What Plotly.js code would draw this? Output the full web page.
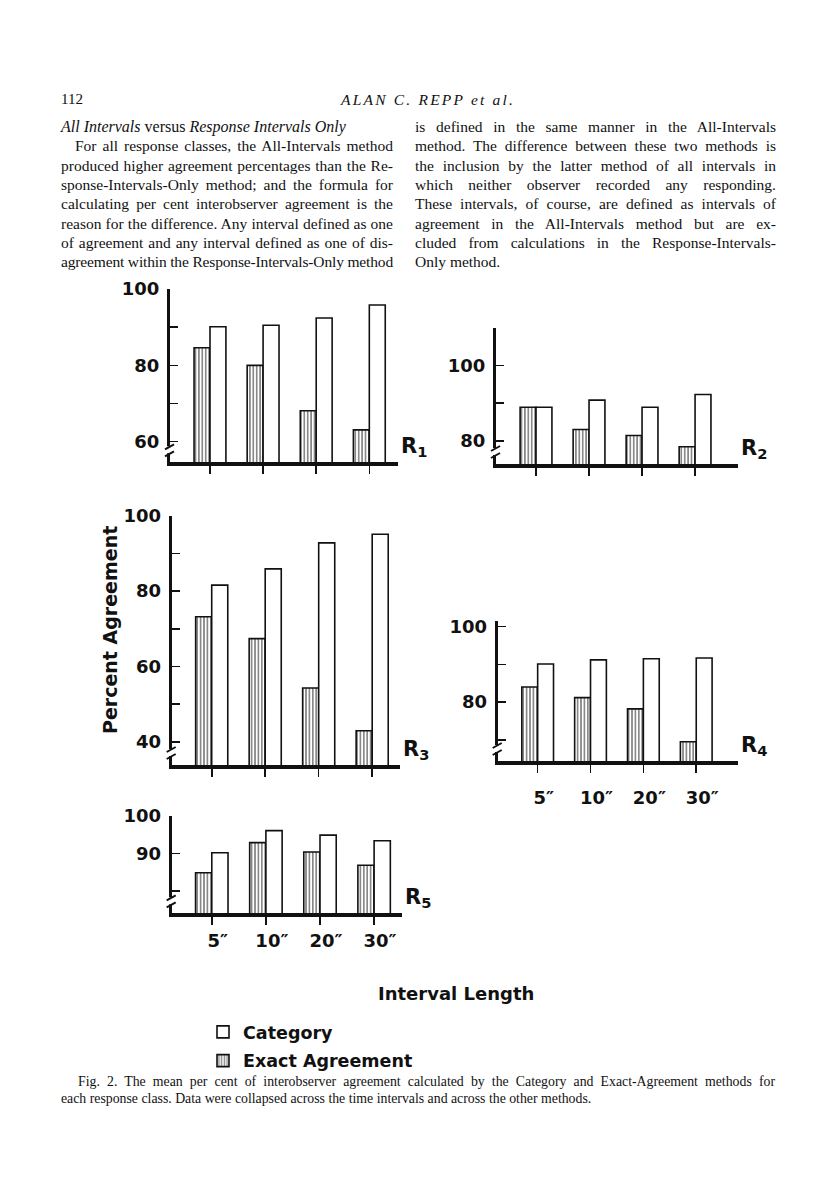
<!DOCTYPE html>
<html>
<head>
<meta charset="utf-8">
<script src="https://cdn.plot.ly/plotly-3.0.1.min.js"></script>
<style>
  html, body { margin: 0; padding: 0; background: #fff; }
  #page { position: relative; width: 816px; height: 1195px; overflow: hidden; }
  #chart { position: absolute; left: 0; top: 0; width: 816px; height: 1195px; }
  .ln { position: absolute; font-family: "Liberation Serif", "DejaVu Serif", serif; font-size: 15.5px;
        line-height: 19px; color: #111; white-space: nowrap; pointer-events: none; }
  .j { text-align: justify; text-align-last: justify; }
  .cap { font-size: 13.8px; line-height: 17px; }
</style>
</head>
<body>
<div id="page">
  <div id="chart"></div>
</div>
<script>
// ---------- data ----------
const intervals = ['5″', '10″', '20″', '30″'];
const panelNames = ['R1', 'R2', 'R3', 'R4', 'R5'];
const seriesNames = ['Exact Agreement', 'Category'];

const exactR1    = [84.6, 80.0, 68.1, 63.1];
const categoryR1 = [90.1, 90.5, 92.4, 95.8];
const exactR2    = [88.9, 83.0, 81.4, 78.4];
const categoryR2 = [88.9, 90.8, 88.9, 92.3];
const exactR3    = [73.2, 67.4, 54.3, 43.0];
const categoryR3 = [81.6, 85.9, 92.8, 95.1];
const exactR4    = [84.0, 81.2, 78.2, 69.5];
const categoryR4 = [90.1, 91.2, 91.5, 91.7];
const exactR5    = [84.9, 92.9, 90.4, 86.9];
const categoryR5 = [90.2, 96.1, 94.9, 93.4];

const yTickValsR1 = [60, 80, 100];
const yMinorValsR1 = [70, 90];
const yTickValsR2 = [80, 100];
const yMinorValsR2 = [90];
const yTickValsR3 = [40, 60, 80, 100];
const yMinorValsR3 = [50, 70, 90];
const yTickValsR4 = [80, 100];
const yMinorValsR4 = [70, 90];
const yTickValsR5 = [90, 100];
const yMinorValsR5 = [80];

const yAxisTitle = 'Percent Agreement';
const xAxisTitle = 'Interval Length';
const subLabels = ['1', '2', '3', '4', '5'];

// ---------- text of the page ----------
const headerPage = '112';
const headerAuthor = 'ALAN C. REPP et al.';
const col1Lines = [
  'For all response classes, the All-Intervals method',
  'produced higher agreement percentages than the Re-',
  'sponse-Intervals-Only method; and the formula for',
  'calculating per cent interobserver agreement is the',
  'reason for the difference. Any interval defined as one',
  'of agreement and any interval defined as one of dis-',
  'agreement within the Response-Intervals-Only method'
];
const col2Lines = [
  'is defined in the same manner in the All-Intervals',
  'method. The difference between these two methods is',
  'the inclusion by the latter method of all intervals in',
  'which neither observer recorded any responding.',
  'These intervals, of course, are defined as intervals of',
  'agreement in the All-Intervals method but are ex-',
  'cluded from calculations in the Response-Intervals-',
  'Only method.'
];
const captionLines = [
  'Fig. 2. The mean per cent of interobserver agreement calculated by the Category and Exact-Agreement methods for',
  'each response class. Data were collapsed across the time intervals and across the other methods.'
];

// ---------- page text (HTML) ----------
const page = document.getElementById('page');
function addLine(text, left, top, width, cls, extraStyle, justify) {
  const d = document.createElement('div');
  d.className = 'ln ' + (cls || '');
  d.style.left = left + 'px';
  d.style.top = top + 'px';
  if (extraStyle) Object.assign(d.style, extraStyle);
  const s = document.createElement('span');
  if (text instanceof Node) s.appendChild(text); else s.textContent = text;
  d.appendChild(s);
  page.appendChild(d);
  if (width) {
    const w = s.getBoundingClientRect().width;
    if (w > width) {
      const n = s.textContent.length;
      d.style.letterSpacing = ((width - w) / n) + 'px';
    }
    d.style.width = width + 'px';
    if (justify) d.classList.add('j');
  }
  return d;
}
addLine(headerPage, 61, 90, null, '', {fontSize: '15px'});
addLine(headerAuthor, 341, 90, null, '', {fontStyle: 'italic', fontSize: '15.5px', letterSpacing: '2.2px'});

const LH = 19.3, T0 = 117;
const head = document.createElement('span');
head.innerHTML = '<i>All Intervals</i> versus <i>Response Intervals Only</i>';
addLine(head, 61, T0, null, '', {fontSize: '16px'});
col1Lines.forEach((t, i) => addLine(t, i === 0 ? 75 : 61, T0 + LH * (i + 1), i === 0 ? 318 : 332, '', null, true));
col2Lines.forEach((t, i) => {
  const last = i === col2Lines.length - 1;
  addLine(t, 415, T0 + LH * i, last ? null : 361, '', null, !last);
});
addLine(captionLines[0], 78, 1073, 697, 'cap', null, true);
addLine(captionLines[1], 61, 1090, null, 'cap');

// ---------- chart ----------
const W = 816, H = 1195;
const px2x = p => p / W;
const px2y = p => 1 - p / H;
const geom = [
  {x: [170, 398],   y: [289, 462.3], xr: [-0.753, 3.54], yr: [54.6, 100]},
  {x: [496, 738],   y: [328, 464],   xr: [-0.755, 3.81], yr: [73.8, 110]},
  {x: [171.7, 400], y: [515.7, 765], xr: [-0.748, 3.52], yr: [33.9, 100]},
  {x: [497.7, 738], y: [621, 761],   xr: [-0.756, 3.79], yr: [64.4, 101.5]},
  {x: [171.7, 401.7], y: [816, 913.3], xr: [-0.741, 3.51], yr: [74.1, 100]}
];
const exactData = [exactR1, exactR2, exactR3, exactR4, exactR5];
const catData = [categoryR1, categoryR2, categoryR3, categoryR4, categoryR5];
const yTickVals = [yTickValsR1, yTickValsR2, yTickValsR3, yTickValsR4, yTickValsR5];
const yMinorVals = [yMinorValsR1, yMinorValsR2, yMinorValsR3, yMinorValsR4, yMinorValsR5];
const showXLabels = [false, false, false, true, true];
const xLabelStandoff = [0, 0, 0, 9, 0];

const INK = '#111';
const boldFont = (s) => ({family: 'DejaVu Sans, Liberation Sans, sans-serif', size: s, color: INK, weight: 'bold'});

const traces = [];
const layout = {
  width: W, height: H,
  margin: {l: 0, r: 0, t: 0, b: 0},
  paper_bgcolor: 'rgba(0,0,0,0)', plot_bgcolor: 'rgba(0,0,0,0)',
  barmode: 'group', bargap: 0.4, bargroupgap: 0,
  showlegend: true,
  legend: {
    x: px2x(203), y: px2y(1014), xanchor: 'left', yanchor: 'top',
    traceorder: 'grouped', tracegroupgap: 3,
    font: boldFont(17.5), bgcolor: 'rgba(0,0,0,0)'
  },
  shapes: [], annotations: []
};

panelNames.forEach((name, i) => {
  const sfx = i === 0 ? '' : String(i + 1);
  const xa = 'x' + sfx, ya = 'y' + sfx;
  const g = geom[i];
  traces.push({
    type: 'bar', name: seriesNames[0], legendgroup: 'exact', legendrank: 2, showlegend: i === 4,
    x: intervals, y: exactData[i], xaxis: xa, yaxis: ya,
    marker: {color: '#fff', line: {color: INK, width: 1.6},
             pattern: {shape: '|', fgcolor: INK, bgcolor: '#fff', size: 3.4, solidity: 0.5, fillmode: 'overlay'}},
    hoverinfo: 'skip'
  });
  traces.push({
    type: 'bar', name: seriesNames[1], legendgroup: 'cat', legendrank: 1, showlegend: i === 4,
    x: intervals, y: catData[i], xaxis: xa, yaxis: ya,
    marker: {color: '#fff', line: {color: INK, width: 1.6}},
    hoverinfo: 'skip'
  });
  layout['xaxis' + sfx] = {
    domain: [px2x(g.x[0]), px2x(g.x[1])], anchor: ya, type: 'category',
    range: g.xr, fixedrange: true,
    showline: true, linewidth: 4, linecolor: INK, mirror: false,
    ticks: 'outside', ticklen: 8, tickwidth: 1.6, tickcolor: INK,
    showgrid: false, zeroline: false,
    showticklabels: showXLabels[i], tickfont: boldFont(18),
    ticklabelstandoff: xLabelStandoff[i], ticklabelshift: 6
  };
  layout['yaxis' + sfx] = {
    domain: [px2y(g.y[1]), px2y(g.y[0])], anchor: xa,
    range: g.yr, fixedrange: true,
    showline: true, linewidth: 3, linecolor: INK,
    ticks: 'inside', ticklen: 8, tickwidth: 1.6, tickcolor: INK,
    tickmode: 'array', tickvals: yTickVals[i],
    minor: {tickmode: 'array', tickvals: yMinorVals[i], ticks: 'inside', ticklen: 8,
            tickwidth: 1.6, tickcolor: INK, showgrid: false},
    showgrid: false, zeroline: false,
    tickfont: boldFont(18), ticklabelstandoff: 4
  };
  // axis break mark near the bottom of each y axis
  const base = {xref: xa + ' domain', yref: ya + ' domain', xsizemode: 'pixel', ysizemode: 'pixel',
                xanchor: 0, yanchor: 0, layer: 'above'};
  layout.shapes.push(Object.assign({}, base, {type: 'rect', x0: -3, x1: 3, y0: 9, y1: 16,
                     fillcolor: '#fff', line: {width: 0}}));
  layout.shapes.push(Object.assign({}, base, {type: 'line', x0: -5, x1: 4, y0: 6, y1: 11,
                     line: {color: INK, width: 2}}));
  layout.shapes.push(Object.assign({}, base, {type: 'line', x0: -5, x1: 4, y0: 13, y1: 18,
                     line: {color: INK, width: 2}}));
  // panel label R1..R5
  layout.annotations.push({
    xref: xa + ' domain', yref: ya + ' domain', x: 1, y: 0,
    xanchor: 'left', yanchor: 'bottom', xshift: 1, yshift: 0,
    text: 'R<sub>' + subLabels[i] + '</sub>', showarrow: false, font: boldFont(21)
  });
});

layout.annotations.push({
  xref: 'paper', yref: 'paper', x: px2x(97), y: px2y(630), textangle: -90,
  text: yAxisTitle, showarrow: false, font: boldFont(19)
});
layout.annotations.push({
  xref: 'paper', yref: 'paper', x: px2x(456), y: px2y(1006),
  text: xAxisTitle, showarrow: false, font: boldFont(18)
});

Plotly.newPlot('chart', traces, layout, {staticPlot: true, displayModeBar: false});
</script>
</body>
</html>
